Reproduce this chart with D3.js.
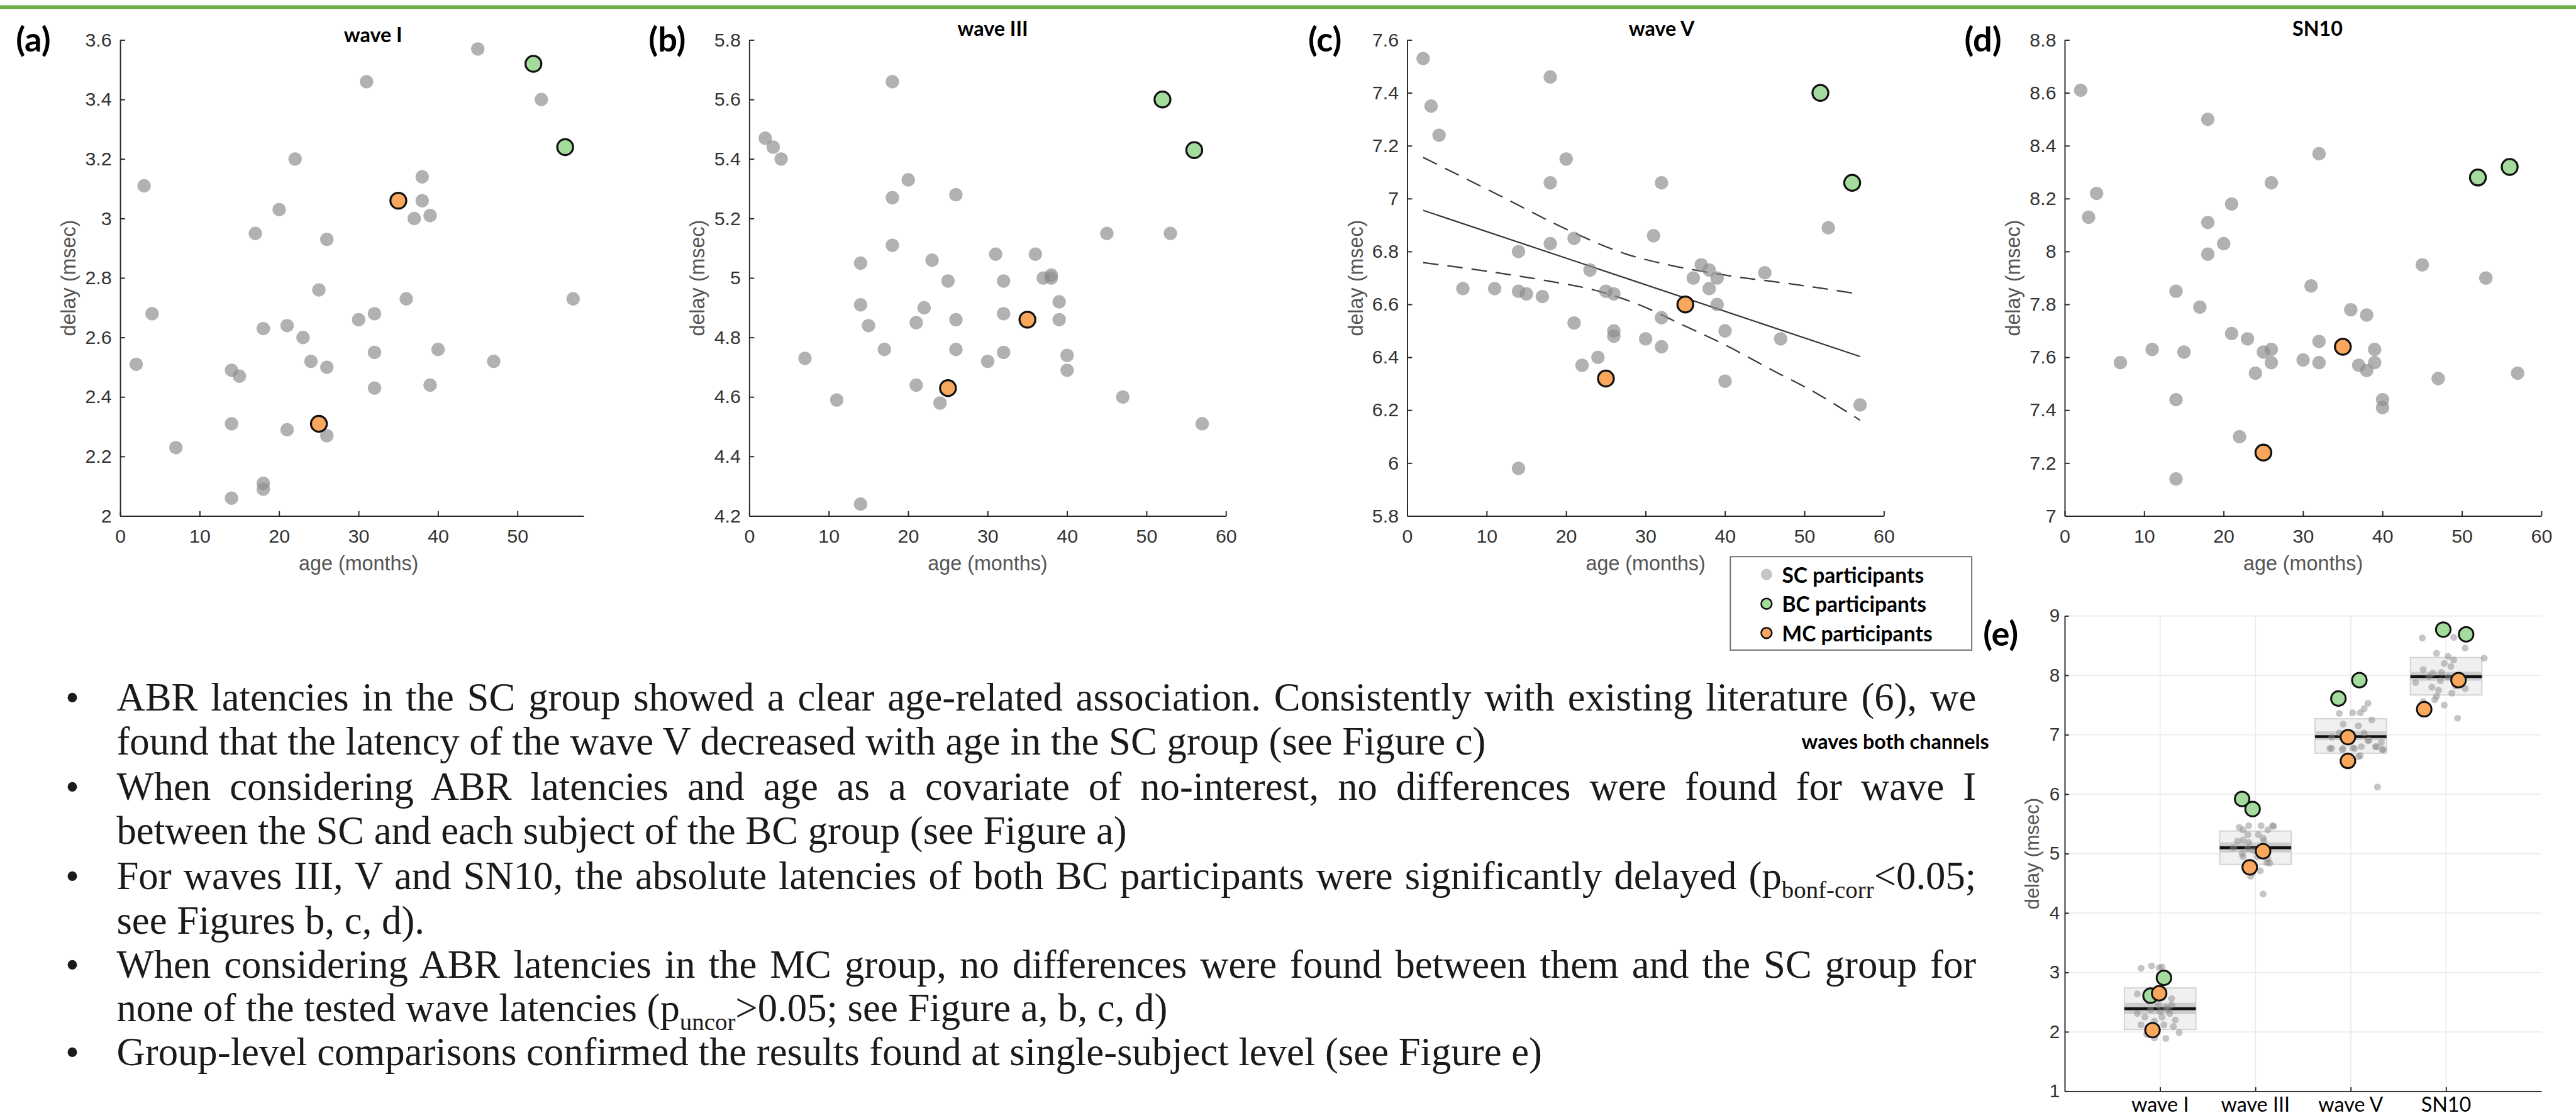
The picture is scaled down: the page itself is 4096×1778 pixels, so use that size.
<!DOCTYPE html>
<html>
<head>
<meta charset="utf-8">
<script src="https://cdn.jsdelivr.net/npm/d3@7"></script>
<style>
  body { margin: 0; background: #fff; }
  svg { display: block; }
</style>
</head>
<body>
<script>
// ---- data ----
var ageTicks = [0, 10, 20, 30, 40, 50, 60];
var waveITicks = [2, 2.2, 2.4, 2.6, 2.8, 3, 3.2, 3.4, 3.6];
var waveIIITicks = [4.2, 4.4, 4.6, 4.8, 5, 5.2, 5.4, 5.6, 5.8];
var waveVTicks = [5.8, 6, 6.2, 6.4, 6.6, 6.8, 7, 7.2, 7.4, 7.6];
var sn10Ticks = [7, 7.2, 7.4, 7.6, 7.8, 8, 8.2, 8.4, 8.6, 8.8];

// [age (months), delay (msec)]
var waveI_sc = [[45,3.57],[31,3.46],[53,3.40],[22,3.20],[3,3.11],[38,3.14],[38,3.06],[37,3.00],[39,3.01],[20,3.03],
  [17,2.95],[26,2.93],[25,2.76],[36,2.73],[57,2.73],[4,2.68],[32,2.68],[30,2.66],[18,2.63],[21,2.64],
  [23,2.60],[32,2.55],[40,2.56],[2,2.51],[24,2.52],[26,2.50],[47,2.52],[14,2.49],[15,2.47],[32,2.43],
  [39,2.44],[14,2.31],[21,2.29],[26,2.27],[7,2.23],[18,2.11],[18,2.09],[14,2.06]];
var waveI_bc = [[52,3.52],[56,3.24]];
var waveI_mc = [[35,3.06],[25,2.31]];

var waveIII_sc = [[18,5.66],[2,5.47],[3,5.44],[4,5.40],[20,5.33],[18,5.27],[26,5.28],[45,5.15],[53,5.15],[18,5.11],
  [31,5.08],[36,5.08],[14,5.05],[23,5.06],[37,5.00],[38,5.01],[38,5.00],[25,4.99],[32,4.99],[14,4.91],
  [22,4.90],[32,4.88],[39,4.92],[39,4.86],[15,4.84],[21,4.85],[26,4.86],[17,4.76],[26,4.76],[32,4.75],
  [30,4.72],[7,4.73],[40,4.74],[40,4.69],[21,4.64],[11,4.59],[24,4.58],[47,4.60],[57,4.51],[14,4.24]];
var waveIII_bc = [[52,5.60],[56,5.43]];
var waveIII_mc = [[35,4.86],[25,4.63]];

var waveV_sc = [[2,7.53],[18,7.46],[3,7.35],[4,7.24],[20,7.15],[18,7.06],[32,7.06],[53,6.89],[31,6.86],[21,6.85],
  [18,6.83],[14,6.80],[23,6.73],[37,6.75],[38,6.73],[36,6.70],[39,6.70],[45,6.72],[7,6.66],[11,6.66],
  [14,6.65],[15,6.64],[17,6.63],[25,6.65],[26,6.64],[38,6.66],[39,6.60],[32,6.55],[21,6.53],[26,6.50],
  [26,6.48],[40,6.50],[30,6.47],[47,6.47],[32,6.44],[24,6.40],[22,6.37],[40,6.31],[57,6.22],[14,5.98]];
var waveV_bc = [[52,7.40],[56,7.06]];
var waveV_mc = [[35,6.60],[25,6.32]];
var waveV_fit = [[2,6.956],[57,6.403]];
var waveV_ciUpper = [[2,7.156],[12.2,7.003],[20.2,6.882],[27.5,6.791],[33,6.749],[40.2,6.710],[48.5,6.677],[57,6.639]];
var waveV_ciLower = [[2,6.758],[9.2,6.729],[17.5,6.690],[23.6,6.654],[29.1,6.600],[34.7,6.522],[40.2,6.444],[45.8,6.354],[51.4,6.266],[57,6.162]];

var sn10_sc = [[2,8.61],[18,8.50],[32,8.37],[26,8.26],[4,8.22],[21,8.18],[3,8.13],[18,8.11],[20,8.03],[18,7.99],
  [45,7.95],[53,7.90],[31,7.87],[14,7.85],[17,7.79],[36,7.78],[38,7.76],[21,7.69],[23,7.67],[32,7.66],
  [11,7.63],[15,7.62],[25,7.62],[26,7.63],[26,7.58],[39,7.63],[7,7.58],[30,7.59],[32,7.58],[37,7.57],
  [38,7.55],[39,7.58],[24,7.54],[57,7.54],[47,7.52],[14,7.44],[40,7.44],[40,7.41],[22,7.30],[14,7.14]];
var sn10_bc = [[52,8.28],[56,8.32]];
var sn10_mc = [[35,7.64],[25,7.24]];

// panel (e): categories, group summary and jittered subjects [category offset, delay]
var categories = ["wave I", "wave III", "wave V", "SN10"];
var delayTicks = [1, 2, 3, 4, 5, 6, 7, 8, 9];
var boxMean = [2.39, 5.10, 6.97, 7.98];
var boxCiLo = [2.30, 5.02, 6.91, 7.91];
var boxCiHi = [2.49, 5.19, 7.06, 8.06];
var boxSdLo = [2.04, 4.82, 6.69, 7.67];
var boxSdHi = [2.74, 5.38, 7.27, 8.30];

var both_sc = [
  [[-0.20,3.07],[-0.09,3.11],[-0.01,3.08],[-0.24,2.64],[-0.15,2.58],[0.12,2.56],[0.06,2.41],[-0.24,2.31],[-0.16,2.25],[-0.06,2.18],
   [0.00,2.34],[0.10,2.31],[0.14,2.09],[0.20,1.99],[-0.06,1.90],[0.06,1.89],[-0.14,1.96],[-0.10,2.37],[0.02,2.25],[0.12,2.45],
   [-0.02,2.45],[0.08,2.38],[-0.12,2.52],[0.16,2.20],[-0.20,2.12],[0.04,2.12],[0.02,3.09]],
  [[-0.07,5.47],[0.06,5.47],[0.18,5.47],[0.13,5.40],[-0.13,5.40],[-0.13,5.23],[-0.19,5.21],[-0.08,5.32],[0.08,5.26],[-0.08,5.08],
   [-0.13,4.95],[0.12,4.85],[0.05,4.71],[-0.05,4.62],[0.08,4.32],[-0.17,5.44],[0.19,5.46],[-0.23,5.10],[-0.14,5.00],[0.13,4.91],
   [0.15,4.84],[0.03,5.32],[0.09,5.21],[-0.07,5.19],[0.02,4.95],[-0.03,4.68],[0.10,5.12],[-0.02,5.05]],
  [[-0.12,7.36],[0.02,7.37],[0.10,7.37],[0.18,7.53],[0.14,7.44],[0.22,7.25],[-0.08,7.18],[-0.12,7.03],[0.08,7.15],[0.14,7.03],
   [-0.20,6.96],[-0.22,6.77],[-0.08,6.77],[0.04,6.77],[0.26,6.80],[0.34,6.75],[0.32,6.87],[0.10,6.65],[0.18,6.90],[0.28,6.12],
   [-0.20,6.77],[-0.09,6.75],[0.02,6.78],[0.11,6.80],[0.19,6.91],[0.27,6.80],[0.33,6.75],[0.08,6.63]],
  [[-0.25,8.63],[0.08,8.64],[0.20,8.46],[0.40,8.29],[-0.10,8.37],[0.02,8.32],[0.08,8.26],[-0.02,8.20],[-0.24,8.10],[-0.14,8.04],
   [-0.06,7.91],[0.02,7.97],[0.10,7.82],[-0.08,7.75],[-0.24,7.56],[-0.12,7.59],[-0.02,7.50],[0.12,7.28],[-0.18,7.98],[-0.32,7.88],
   [0.05,8.15],[-0.05,8.05],[0.15,8.00],[-0.15,7.80],[0.06,7.70],[0.20,7.78],[-0.10,7.65]]
];
var both_bc = [[[-0.10,2.61],[0.04,2.91]], [[-0.14,5.92],[-0.03,5.75]], [[-0.13,7.61],[0.09,7.92]], [[-0.03,8.77],[0.21,8.69]]];
var both_mc = [[[-0.01,2.65],[-0.08,2.03]], [[0.08,5.04],[-0.06,4.77]], [[-0.03,6.96],[-0.03,6.56]], [[0.13,7.92],[-0.23,7.43]]];

var legendLabels = ["SC participants", "BC participants", "MC participants"];

// text lines, segments with sub = subscript
var bodyLines = [
  {bullet: true, justify: true, segs: [{t: "ABR latencies in the SC group showed a clear age-related association. Consistently with existing literature (6), we"}]},
  {bullet: false, justify: false, segs: [{t: "found that the latency of the wave V decreased with age in the SC group (see Figure c)"}]},
  {bullet: true, justify: true, segs: [{t: "When considering ABR latencies and age as a covariate of no-interest, no differences were found for wave I"}]},
  {bullet: false, justify: false, segs: [{t: "between the SC and each subject of the BC group (see Figure a)"}]},
  {bullet: true, justify: true, segs: [{t: "For waves III, V and SN10, the absolute latencies of both BC participants were significantly delayed (p"}, {t: "bonf-corr", sub: true}, {t: "<0.05;"}]},
  {bullet: false, justify: false, segs: [{t: "see Figures b, c, d)."}]},
  {bullet: true, justify: true, segs: [{t: "When considering ABR latencies in the MC group, no differences were found between them and the SC group for"}]},
  {bullet: false, justify: false, segs: [{t: "none of the tested wave latencies (p"}, {t: "uncor", sub: true}, {t: ">0.05; see Figure a, b, c, d)"}]},
  {bullet: true, justify: false, segs: [{t: "Group-level comparisons confirmed the results found at single-subject level (see Figure e)"}]}
];

// ---- layout (reference pixel space, scaled to the window) ----
var W = 6339, H = 2752;
var S = 4096 / W;
var axTop = 98.5, axBottom = 1270, axWidth = 1173;
var gray = "#8c8c8c", green = "#a3dc9c", orange = "#f8a75c";
var tickFont = "'Liberation Sans', Arial, sans-serif";
var boldFont = "Lato, 'Open Sans', sans-serif";

var svg = d3.select("body").append("svg")
  .attr("width", 4096)
  .attr("height", 1778);

var root = svg.append("g").attr("transform", `scale(${S})`);
root.append("rect").attr("width", W).attr("height", H).attr("fill", "#fff");

// green rule at the top
root.append("rect")
  .attr("x", 0).attr("y", 13).attr("width", W).attr("height", 9)
  .attr("fill", "#70ad47");

var defs = svg.append("defs");
defs.append("clipPath").attr("id", "clipA")
  .append("rect").attr("x", 0).attr("y", 0).attr("width", 1437).attr("height", 1500);

function styleAxis(sel, size) {
  sel.attr("font-family", tickFont).attr("font-size", size);
  sel.selectAll("path, line").attr("stroke", "#262626").attr("stroke-width", 3);
  sel.selectAll("text").attr("fill", "#333");
}

var panels = [
  {tag: "(a)", title: "wave I", left: 296, ticks: waveITicks, sc: waveI_sc, bc: waveI_bc, mc: waveI_mc, tagX: 39, titleX: 918, titleY: 103, clip: "clipA"},
  {tag: "(b)", title: "wave III", left: 1844, ticks: waveIIITicks, sc: waveIII_sc, bc: waveIII_bc, mc: waveIII_mc, tagX: 1596, titleX: 2443, titleY: 88},
  {tag: "(c)", title: "wave V", left: 3463, ticks: waveVTicks, sc: waveV_sc, bc: waveV_bc, mc: waveV_mc, tagX: 3219, titleX: 4089, titleY: 88, fit: true},
  {tag: "(d)", title: "SN10", left: 5081, ticks: sn10Ticks, sc: sn10_sc, bc: sn10_bc, mc: sn10_mc, tagX: 4834, titleX: 5703, titleY: 88}
];

panels.forEach(function(p) {
  var g = root.append("g");
  if (p.clip) g.attr("clip-path", `url(#${p.clip})`);

  var x = d3.scaleLinear().domain([0, 60]).range([p.left, p.left + axWidth]);
  var y = d3.scaleLinear()
    .domain([p.ticks[0], p.ticks[p.ticks.length - 1]])
    .range([axBottom, axTop]);

  g.append("g")
    .attr("transform", `translate(0, ${axBottom})`)
    .call(d3.axisBottom(x).tickValues(ageTicks).tickSizeInner(-12).tickSizeOuter(0).tickPadding(33))
    .call(styleAxis, 47);

  g.append("g")
    .attr("transform", `translate(${p.left}, 0)`)
    .call(d3.axisLeft(y).tickValues(p.ticks).tickSizeInner(-12).tickSizeOuter(0).tickPadding(21)
      .tickFormat(d => +d.toFixed(1)))
    .call(styleAxis, 47);

  // axis labels
  g.append("text")
    .attr("x", p.left + axWidth / 2)
    .attr("y", 1403)
    .attr("text-anchor", "middle")
    .attr("font-family", tickFont).attr("font-size", 50)
    .attr("fill", "#555")
    .text("age (months)");

  g.append("text")
    .attr("transform", `translate(${p.left - 127}, ${(axTop + axBottom) / 2}) rotate(-90)`)
    .attr("text-anchor", "middle")
    .attr("dominant-baseline", "central")
    .attr("font-family", tickFont).attr("font-size", 50)
    .attr("fill", "#555")
    .text("delay (msec)");

  // regression line with confidence bounds (wave V)
  if (p.fit) {
    var line = d3.line().x(d => x(d[0])).y(d => y(d[1])).curve(d3.curveMonotoneX);
    g.append("path").attr("d", line(waveV_fit))
      .attr("fill", "none").attr("stroke", "#3a3a3a").attr("stroke-width", 3.5);
    [waveV_ciUpper, waveV_ciLower].forEach(function(ci) {
      g.append("path").attr("d", line(ci))
        .attr("fill", "none").attr("stroke", "#3a3a3a").attr("stroke-width", 3.5)
        .attr("stroke-dasharray", "38,22");
    });
  }

  g.selectAll(null)
    .data(p.sc)
    .enter()
    .append("circle")
    .attr("cx", d => x(d[0]))
    .attr("cy", d => y(d[1]))
    .attr("r", 16.5)
    .attr("fill", gray)
    .attr("opacity", 0.68);

  g.selectAll(null)
    .data(p.bc.map(d => [d, green]).concat(p.mc.map(d => [d, orange])))
    .enter()
    .append("circle")
    .attr("cx", d => x(d[0][0]))
    .attr("cy", d => y(d[0][1]))
    .attr("r", 19.5)
    .attr("fill", d => d[1])
    .attr("stroke", "#111")
    .attr("stroke-width", 5);

  root.append("text")
    .attr("x", p.tagX).attr("y", 127)
    .attr("font-family", boldFont).attr("font-weight", "bold").attr("font-size", 84)
    .attr("fill", "#000")
    .text(p.tag);

  root.append("text")
    .attr("x", p.titleX).attr("y", p.titleY)
    .attr("text-anchor", "middle")
    .attr("font-family", boldFont).attr("font-weight", "bold").attr("font-size", 50)
    .attr("fill", "#000")
    .text(p.title);
});

// ---- legend ----
var legend = root.append("g");
legend.append("rect")
  .attr("x", 4258).attr("y", 1370).attr("width", 594).attr("height", 230)
  .attr("fill", "#fff").attr("stroke", "#6e6e6e").attr("stroke-width", 3);

legendLabels.forEach(function(label, i) {
  var cy = 1414 + i * 72;
  if (i === 0) {
    legend.append("circle").attr("cx", 4347).attr("cy", cy).attr("r", 14)
      .attr("fill", gray).attr("opacity", 0.5);
  } else {
    legend.append("circle").attr("cx", 4347).attr("cy", cy).attr("r", 13)
      .attr("fill", i === 1 ? green : orange).attr("stroke", "#111").attr("stroke-width", 4);
  }
  legend.append("text")
    .attr("x", 4385).attr("y", cy)
    .attr("dominant-baseline", "central")
    .attr("font-family", boldFont).attr("font-weight", "bold").attr("font-size", 52)
    .attr("fill", "#000")
    .text(label);
});

// ---- panel (e) ----
var ex = d3.scaleLinear().domain([0, 5]).range([5081, 6254]);
var ey = d3.scaleLinear().domain([1, 9]).range([2686, 1516]);
var eg = root.append("g");

// grid
eg.selectAll(null).data(delayTicks).enter().append("line")
  .attr("x1", ex(0)).attr("x2", ex(5))
  .attr("y1", d => ey(d)).attr("y2", d => ey(d))
  .attr("stroke", "#ebebeb").attr("stroke-width", 2.5);
eg.selectAll(null).data(categories).enter().append("line")
  .attr("x1", (d, i) => ex(i + 1)).attr("x2", (d, i) => ex(i + 1))
  .attr("y1", ey(1)).attr("y2", ey(9))
  .attr("stroke", "#ebebeb").attr("stroke-width", 2.5);

eg.append("g")
  .attr("transform", `translate(5081, 0)`)
  .call(d3.axisLeft(ey).tickValues(delayTicks).tickSizeInner(-10).tickSizeOuter(0).tickPadding(12))
  .call(styleAxis, 46);
eg.append("g")
  .attr("transform", `translate(0, ${ey(1)})`)
  .call(d3.axisBottom(ex).tickValues([1, 2, 3, 4]).tickSizeInner(-10).tickSizeOuter(0).tickFormat(""))
  .call(styleAxis, 46);

eg.selectAll(null).data(categories).enter().append("text")
  .attr("x", (d, i) => ex(i + 1)).attr("y", 2736)
  .attr("text-anchor", "middle")
  .attr("font-family", "Lato, 'Open Sans', sans-serif").attr("font-size", 50)
  .attr("fill", "#000")
  .text(d => d);

eg.append("text")
  .attr("transform", `translate(5001, ${(ey(1) + ey(9)) / 2}) rotate(-90)`)
  .attr("text-anchor", "middle")
  .attr("dominant-baseline", "central")
  .attr("font-family", tickFont).attr("font-size", 48)
  .attr("fill", "#555")
  .text("delay (msec)");

var halfBox = 0.375;
categories.forEach(function(c, i) {
  var cx = i + 1;
  eg.append("rect")
    .attr("x", ex(cx - halfBox)).attr("width", ex(cx + halfBox) - ex(cx - halfBox))
    .attr("y", ey(boxSdHi[i])).attr("height", ey(boxSdLo[i]) - ey(boxSdHi[i]))
    .attr("fill", "#f0f0f0").attr("stroke", "#d2d2d2").attr("stroke-width", 3);
  eg.append("rect")
    .attr("x", ex(cx - halfBox)).attr("width", ex(cx + halfBox) - ex(cx - halfBox))
    .attr("y", ey(boxCiHi[i])).attr("height", ey(boxCiLo[i]) - ey(boxCiHi[i]))
    .attr("fill", "#cdcdcd");
  eg.append("line")
    .attr("x1", ex(cx - halfBox)).attr("x2", ex(cx + halfBox))
    .attr("y1", ey(boxMean[i])).attr("y2", ey(boxMean[i]))
    .attr("stroke", "#111").attr("stroke-width", 7);

  eg.selectAll(null).data(both_sc[i]).enter().append("circle")
    .attr("cx", d => ex(cx + d[0])).attr("cy", d => ey(d[1]))
    .attr("r", 8.5).attr("fill", gray).attr("opacity", 0.5);
});
categories.forEach(function(c, i) {
  var cx = i + 1;
  var marks = both_bc[i].map(d => [d, green]).concat(both_mc[i].map(d => [d, orange]));
  eg.selectAll(null).data(marks).enter().append("circle")
    .attr("cx", d => ex(cx + d[0][0])).attr("cy", d => ey(d[0][1]))
    .attr("r", 18).attr("fill", d => d[1])
    .attr("stroke", "#111").attr("stroke-width", 4.5);
});

root.append("text")
  .attr("x", 4880).attr("y", 1590)
  .attr("font-family", boldFont).attr("font-weight", "bold").attr("font-size", 84)
  .attr("fill", "#000")
  .text("(e)");

root.append("text")
  .attr("x", 4433).attr("y", 1843)
  .attr("font-family", boldFont).attr("font-weight", "bold").attr("font-size", 50)
  .attr("fill", "#000")
  .text("waves both channels");

// ---- bullet text ----
var bodyFont = "'Liberation Serif', 'Times New Roman', serif";
var textLeft = 287, textRight = 4863, bulletX = 178;
var baselines = [1749, 1857, 1969, 2077, 2188, 2298, 2406, 2513, 2621];
var body = root.append("g").attr("font-family", bodyFont).attr("fill", "#1a1a1a");

function writeLine(el, segs, fs) {
  el.selectAll("tspan").remove();
  segs.forEach(function(s, k) {
    var t = el.append("tspan").text(s.t);
    if (s.sub) t.attr("font-size", fs * 0.62).attr("dy", fs * 0.22);
    else if (k > 0 && segs[k - 1].sub) t.attr("dy", -fs * 0.22);
  });
}

// fit font size to the last (unjustified) line width
var probe = body.append("text").attr("x", textLeft).attr("y", -500).attr("font-size", 100);
writeLine(probe, bodyLines[8].segs, 100);
var fs = 100 * (3795 - textLeft) / probe.node().getComputedTextLength();
probe.remove();

bodyLines.forEach(function(l, i) {
  if (l.bullet) {
    body.append("text").attr("x", bulletX).attr("y", baselines[i])
      .attr("text-anchor", "middle").attr("font-size", fs).text("\u2022");
  }
  var t = body.append("text").attr("x", textLeft).attr("y", baselines[i]).attr("font-size", fs);
  writeLine(t, l.segs, fs);
  if (l.justify) {
    var natural = t.node().getComputedTextLength();
    var spaces = l.segs.map(s => (s.t.match(/ /g) || []).length).reduce((a, b) => a + b, 0);
    t.style("word-spacing", ((textRight - textLeft - natural) / spaces) + "px");
  }
});
</script>
</body>
</html>
